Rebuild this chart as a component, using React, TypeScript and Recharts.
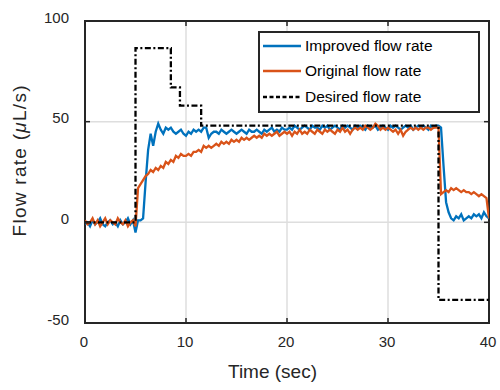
import React from 'react';
import { LineChart, Line, XAxis, YAxis, CartesianGrid, ReferenceArea, Legend } from 'recharts';

// ---------------- data ----------------
const SAMPLE_PERIOD = 0.25; // seconds between samples

const IMPROVED = [
  -1, 0, -2, 1, -1, 0, 2, -1, -2, 0, 1, -1, 0, -2, 1, -1, 0, 2, -1, 1,
  -5, 1, 1, 2, 20, 36, 44, 38, 45, 49, 46, 44, 47, 46, 47, 45, 44, 45, 46, 44,
  43, 45, 44, 46, 45, 46, 45, 47, 47, 42, 44, 45, 45, 44, 46, 45, 44, 45, 46, 45,
  44, 45, 46, 45, 44, 46, 45, 45, 46, 45, 44, 46, 45, 46, 47, 45, 46, 45, 47, 46,
  46, 47, 46, 48, 47, 46, 47, 48, 47, 46, 48, 47, 47, 46, 48, 47, 48, 46, 47, 48,
  47, 46, 48, 47, 48, 47, 46, 48, 47, 48, 47, 46, 48, 47, 47, 48, 46, 47, 48, 47,
  46, 48, 47, 48, 47, 46, 47, 48, 47, 48, 46, 47, 48, 47, 48, 47, 46, 48, 47, 48,
  48, 47, 28, 10, 5, 2, 1, 3, 2, 4, 1, 2, 3, 2, 4, 3, 4, 2, 5, 3,
  2,
];

const ORIGINAL = [
  1, -1, 0, 2, -1, 1, -2, 0, 2, -1, 1, 0, -1, 2, 0, -1, 1, -2, 0, 1,
  -2, 17, 19, 21, 23, 24, 26, 25, 27, 26, 28, 27, 30, 29, 31, 30, 33, 32, 34, 33,
  33, 34, 33, 35, 35, 36, 35, 38, 37, 38, 37, 38, 39, 38, 40, 39, 40, 39, 41, 40,
  41, 40, 42, 41, 42, 41, 42, 43, 42, 43, 42, 44, 43, 44, 43, 44, 45, 43, 44, 45,
  44, 45, 43, 45, 44, 46, 44, 45, 44, 46, 45, 44, 46, 45, 44, 46, 45, 46, 45, 44,
  46, 45, 47, 45, 46, 44, 46, 47, 46, 47, 46, 48, 47, 46, 47, 49, 48, 46, 47, 46,
  47, 46, 45, 46, 44, 46, 43, 45, 46, 47, 46, 47, 46, 47, 46, 47, 47, 46, 47, 47,
  47, 14, 15, 16, 15, 17, 16, 17, 16, 15, 16, 15, 15, 14, 15, 14, 13, 14, 13, 12,
  2,
];

const DESIRED_T = [0, 5, 8.5, 9.4, 11.5, 35, 40];
const DESIRED_V = [0, 86.5, 67, 58, 48, -38.5, -38.5];

const X_TICKS = [0, 10, 20, 30, 40];
const Y_TICKS = [-50, 0, 50, 100];

const SERIES_NAMES = ['Improved flow rate', 'Original flow rate', 'Desired flow rate'];

const measuredData = IMPROVED.map((v, i) => ({
  t: i * SAMPLE_PERIOD,
  improved: v,
  original: ORIGINAL[i],
}));
const desiredData = DESIRED_T.map((t, i) => ({ t, desired: DESIRED_V[i] }));

// ---------------- styling / layout ----------------
const W = 500;
const H = 390;
const MARGIN = { top: 21, right: 11, bottom: 0, left: 0 };
const Y_AXIS_W = 85;
const X_AXIS_H = 67;
const PLOT_TOP = MARGIN.top;
const PLOT_RIGHT = W - MARGIN.right;
const TICK_LEN = 5;
const FONT = '"Liberation Sans", Arial, Helvetica, sans-serif';
const INK = '#262626';
const BLUE = '#0072BD';
const ORANGE = '#D95319';
const DASH_DOT = '6 2.5 2 2.5';
const SERIES_W = 2.3;

const XTick = (props: any) => {
  const { x, y, payload } = props;
  return (
    <g>
      <line x1={x} x2={x} y1={y} y2={y - TICK_LEN} stroke={INK} strokeWidth={1.5} />
      <line x1={x} x2={x} y1={PLOT_TOP} y2={PLOT_TOP + TICK_LEN} stroke={INK} strokeWidth={1.5} />
      <text x={x - 1} y={y + 24} textAnchor="middle" fontSize={15} fill={INK} fontFamily={FONT}>
        {payload.value}
      </text>
    </g>
  );
};

const YTick = (props: any) => {
  const { x, y, payload } = props;
  return (
    <g>
      <line x1={x} x2={x + TICK_LEN} y1={y} y2={y} stroke={INK} strokeWidth={1.5} />
      <line x1={PLOT_RIGHT} x2={PLOT_RIGHT - TICK_LEN} y1={y} y2={y} stroke={INK} strokeWidth={1.5} />
      <text x={x - 16} y={y + 1.5} textAnchor="end" fontSize={15} fill={INK} fontFamily={FONT}>
        {payload.value}
      </text>
    </g>
  );
};

const XTitle = (props: any) => {
  const vb = props.viewBox || { x: 85, y: 323, width: 404, height: 67 };
  return (
    <text
      x={vb.x + vb.width / 2 - 14.5}
      y={vb.y + 55}
      textAnchor="middle"
      fontSize={19}
      fill={INK}
      fontFamily={FONT}
    >
      Time (sec)
    </text>
  );
};

const YTitle = (props: any) => {
  const vb = props.viewBox || { x: 0, y: 21, width: 85, height: 302 };
  const cx = vb.x + 26;
  const cy = vb.y + vb.height / 2 - 11;
  return (
    <text
      x={cx}
      y={cy}
      textAnchor="middle"
      fontSize={19}
      fill={INK}
      fontFamily={FONT}
      transform={`rotate(-90, ${cx}, ${cy})`}
      textLength={151}
      lengthAdjust="spacing"
    >
      Flow rate (<tspan fontStyle="italic">{'\u03BC'}</tspan>L/s)
    </text>
  );
};

const LegendBox = () => {
  const styles = [
    { color: BLUE, dash: undefined as string | undefined },
    { color: ORANGE, dash: undefined as string | undefined },
    { color: '#000', dash: '4 2.5' },
  ];
  return (
    <div
      style={{
        width: 222,
        height: 82,
        boxSizing: 'border-box',
        border: `2px solid ${INK}`,
        background: '#fff',
        position: 'relative',
        fontFamily: FONT,
        fontSize: 15.5,
        color: '#000',
      }}
    >
      {SERIES_NAMES.map((name, i) => (
        <div
          key={name}
          style={{
            position: 'absolute',
            left: 3,
            top: 0.7 + i * 25.5,
            height: 24,
            display: 'flex',
            alignItems: 'center',
            whiteSpace: 'nowrap',
          }}
        >
          <svg width={40} height={24} style={{ display: 'block' }}>
            <line
              x1={0}
              x2={38}
              y1={12}
              y2={12}
              stroke={styles[i].color}
              strokeWidth={2.3}
              strokeDasharray={styles[i].dash}
            />
          </svg>
          <span style={{ marginLeft: 2, lineHeight: '24px' }}>{name}</span>
        </div>
      ))}
    </div>
  );
};

export default function App() {
  return (
    <div style={{ position: 'absolute', left: 0, top: 0, width: W, height: H, background: '#fff' }}>
      <LineChart width={W} height={H} data={measuredData} margin={MARGIN}>
        <CartesianGrid stroke="#dedede" strokeWidth={1.5} />
        <XAxis
          dataKey="t"
          type="number"
          domain={[0, 40]}
          ticks={X_TICKS}
          interval={0}
          height={X_AXIS_H}
          axisLine={false}
          tickLine={false}
          tickSize={0}
          tickMargin={0}
          tick={<XTick />}
          allowDataOverflow
          label={<XTitle />}
        />
        <YAxis
          type="number"
          domain={[-50, 100]}
          ticks={Y_TICKS}
          interval={0}
          width={Y_AXIS_W}
          axisLine={false}
          tickLine={false}
          tickSize={0}
          tickMargin={0}
          tick={<YTick />}
          allowDataOverflow
          label={<YTitle />}
        />
        <Line
          dataKey="improved"
          name={SERIES_NAMES[0]}
          stroke={BLUE}
          strokeWidth={SERIES_W}
          dot={false}
          type="linear"
          isAnimationActive={false}
        />
        <Line
          dataKey="original"
          name={SERIES_NAMES[1]}
          stroke={ORANGE}
          strokeWidth={SERIES_W}
          dot={false}
          type="linear"
          isAnimationActive={false}
        />
        <Line
          data={desiredData}
          dataKey="desired"
          name={SERIES_NAMES[2]}
          stroke="#000"
          strokeWidth={SERIES_W}
          strokeDasharray={DASH_DOT}
          dot={false}
          type="stepAfter"
          isAnimationActive={false}
        />
        <ReferenceArea
          x1={0}
          x2={40}
          y1={-50}
          y2={100}
          fill="none"
          fillOpacity={0}
          stroke={INK}
          strokeWidth={2}
          ifOverflow="visible"
        />
        <Legend
          layout="vertical"
          align="center"
          verticalAlign="middle"
          content={<LegendBox />}
          wrapperStyle={{ left: 258, top: 31, width: 222, height: 82 }}
        />
      </LineChart>
    </div>
  );
}
